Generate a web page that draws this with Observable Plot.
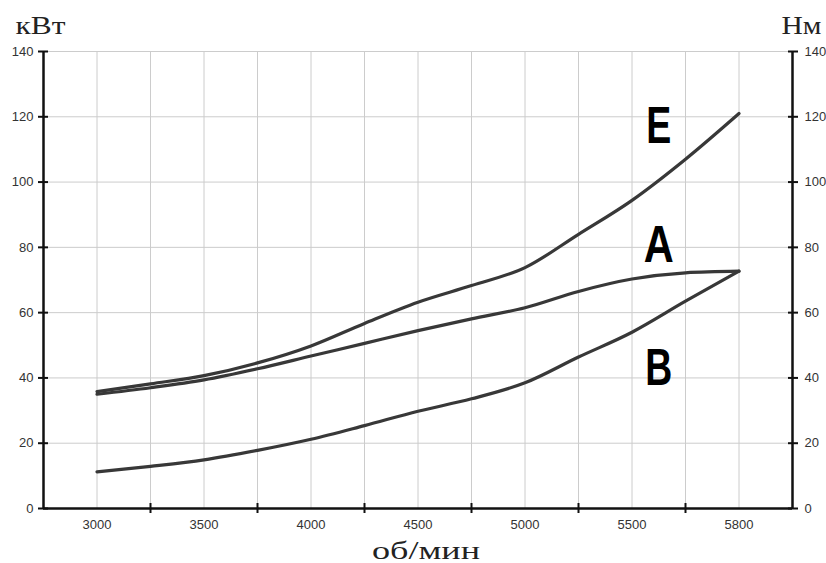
<!DOCTYPE html>
<html><head><meta charset="utf-8">
<script src="https://cdn.jsdelivr.net/npm/d3@7"></script>
<script src="https://cdn.jsdelivr.net/npm/@observablehq/plot@0.6"></script>
<style>html,body{margin:0;padding:0;background:#fff;}</style>
</head><body><div id="chart"></div>
<script>
// rpm sample points
const rpm    = [3000, 3250, 3500, 3750, 4000, 4250, 4500, 4750, 5000, 5250, 5500, 5650, 5800];
const curveE = [35.8, 38.2, 40.7, 44.6, 49.8, 56.7, 63.2, 68.3, 73.8, 84.0, 94.4, 107.0, 121.0];
const curveA = [35.0, 37.0, 39.4, 42.8, 46.7, 50.6, 54.5, 58.1, 61.5, 66.5, 70.3, 72.2, 72.7];
const curveB = [11.2, 12.9, 14.9, 17.8, 21.2, 25.4, 29.8, 33.6, 38.5, 46.4, 54.0, 63.5, 72.7];
const curveNames = ["E", "A", "B"];
const labelRpm = [5575, 5575, 5575];
const labelValue = [117, 80.5, 43];

const xTickLabels = [3000, 3500, 4000, 4500, 5000, 5500, 5800];
const xBandEdges = [3250, 3750, 4250, 4750, 5250, 5650];
const xGridLines = [3000, 3250, 3500, 3750, 4000, 4250, 4500, 4750, 5000, 5250, 5500, 5650, 5800];
const xDomain = [2750, 3000, 3500, 4000, 4500, 5000, 5500, 5800, 5950];
const yTicks = [0, 20, 40, 60, 80, 100, 120, 140];
const unitLeft = "кВт";
const unitRight = "Нм";
const unitBottom = "об/мин";

const W = 826, H = 563, mL = 43, mR = 34, mT = 51, mB = 55;
const bw = (W - mL - mR) / 7;
const xRange = [0, 0.5, 1.5, 2.5, 3.5, 4.5, 5.5, 6.5, 7].map(t => mL + t * bw);

const series = [curveE, curveA, curveB];
const rows = curveNames.flatMap((name, i) => rpm.map((r, j) => ({curve: name, rpm: r, value: series[i][j]})));
const labels = curveNames.map((name, i) => ({name, rpm: labelRpm[i], value: labelValue[i]}));

const ink = "#111";
const noText = () => "";

const svg = Plot.plot({
  width: W, height: H,
  marginLeft: mL, marginRight: mR, marginTop: mT, marginBottom: mB,
  style: {fontFamily: "'Liberation Sans', Arial, sans-serif", fontSize: "13px", background: "#fff", overflow: "visible", color: "#333"},
  x: {type: "linear", domain: xDomain, range: xRange, axis: null, label: null},
  y: {domain: [0, 140], axis: null, label: null},
  marks: [
    Plot.gridX(xGridLines, {stroke: "#cccccc", strokeOpacity: 1, strokeWidth: 1}),
    Plot.gridY(yTicks.filter(v => v > 0), {stroke: "#cccccc", strokeOpacity: 1, strokeWidth: 1}),
    Plot.line(rows, {x: "rpm", y: "value", z: "curve", stroke: "#383838", strokeWidth: 3.2, curve: "monotone-x"}),
    Plot.ruleY([yTicks[0]], {stroke: ink, strokeWidth: 2.5}),
    Plot.ruleX([xDomain[0], xDomain[xDomain.length - 1]], {stroke: ink, strokeWidth: 2.5}),
    Plot.axisX(xBandEdges, {anchor: "bottom", tickSize: 10, dy: -5, stroke: ink, strokeWidth: 2, tickFormat: noText, label: null}),
    Plot.axisX(xTickLabels, {anchor: "bottom", tickSize: 0, tickPadding: 11, tickFormat: "d", label: null, fontSize: 13}),
    Plot.axisY(yTicks, {anchor: "left", tickSize: 10, dx: 5, stroke: ink, strokeWidth: 2, tickFormat: noText, label: null}),
    Plot.axisY(yTicks, {anchor: "left", tickSize: 0, tickPadding: 10, label: null, fontSize: 13}),
    Plot.axisY(yTicks, {anchor: "right", tickSize: 10, dx: -5, stroke: ink, strokeWidth: 2, tickFormat: noText, label: null}),
    Plot.axisY(yTicks, {anchor: "right", tickSize: 0, tickPadding: 12, label: null, fontSize: 13}),
    Plot.text(labels, {x: "rpm", y: "value", text: "name", fill: "#000", fontSize: 52, fontWeight: "bold",
      fontFamily: "'Liberation Sans', Arial, sans-serif", lineAnchor: "middle", textAnchor: "middle"}),
    Plot.text([unitLeft], {frameAnchor: "top-left", text: d => d, dx: -3, dy: -18, lineAnchor: "bottom", textAnchor: "middle",
      fontSize: 25, fontFamily: "'Liberation Serif', 'Times New Roman', serif", fill: "#222"}),
    Plot.text([unitRight], {frameAnchor: "top-right", text: d => d, dx: 9, dy: -18, lineAnchor: "bottom", textAnchor: "middle",
      fontSize: 25, fontFamily: "'Liberation Serif', 'Times New Roman', serif", fill: "#222"}),
    Plot.text([unitBottom], {frameAnchor: "bottom", text: d => d, dx: 8, dy: 50, lineAnchor: "bottom", textAnchor: "middle",
      fontSize: 26, fontFamily: "'Liberation Serif', 'Times New Roman', serif", fill: "#222"})
  ]
});

const stretch = {[unitLeft]: 50, [unitRight]: 40, [unitBottom]: 108, E: 25, A: 30, B: 27};
svg.querySelectorAll("text").forEach(t => {
  const L = stretch[t.textContent];
  if (L) { t.setAttribute("textLength", L); t.setAttribute("lengthAdjust", "spacingAndGlyphs"); }
});
document.getElementById("chart").appendChild(svg);
</script>
</body></html>
